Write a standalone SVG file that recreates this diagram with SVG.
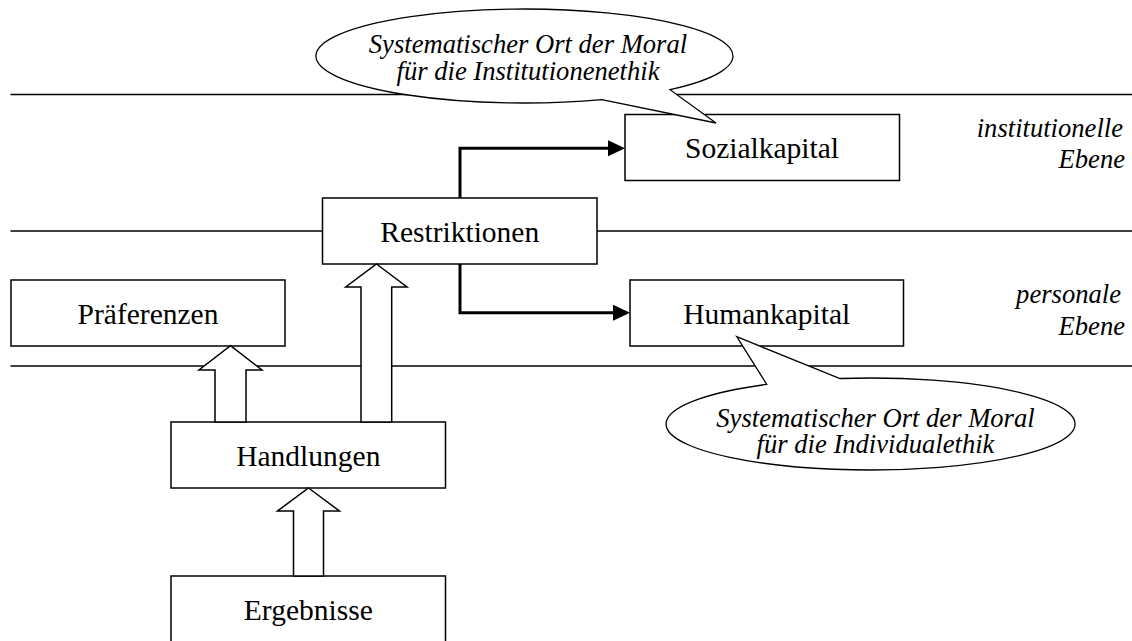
<svg xmlns="http://www.w3.org/2000/svg" width="1132" height="641" viewBox="0 0 1132 641" font-family="'Liberation Serif', 'DejaVu Serif', serif">
<defs>
<style>
.lvl{stroke:#000;stroke-width:1.6;fill:none}
.box{fill:#fff;stroke:#000;stroke-width:1.5}
.bt{font-size:29.5px;text-anchor:middle;fill:#000}
.it{font-size:26.6px;font-style:italic;fill:#000}
.blk{fill:#fff;stroke:#000;stroke-width:1.5;stroke-linejoin:miter}
.con{fill:none;stroke:#000;stroke-width:3}
.call{fill:#fff;stroke:#000;stroke-width:1.3}
</style>
<marker id="ah" markerUnits="userSpaceOnUse" markerWidth="18" markerHeight="17" refX="1" refY="8" orient="auto" overflow="visible">
<path d="M0,0 L17,8 L0,16 Z" fill="#000"/>
</marker>
</defs>
<rect width="1132" height="641" fill="#fff"/>
<g id="levels">
<line class="lvl" x1="10.5" y1="94.5" x2="1132" y2="94.5"/>
<line class="lvl" x1="10.5" y1="231" x2="1132" y2="231"/>
<line class="lvl" x1="10.5" y1="366" x2="1132" y2="366"/>
</g>
<g id="level-labels" font-family="Liberation Serif, serif">
<text class="it" text-anchor="end" x="1123" y="137">institutionelle</text>
<text class="it" text-anchor="end" x="1125" y="168">Ebene</text>
<text class="it" text-anchor="end" x="1121" y="303">personale</text>
<text class="it" text-anchor="end" x="1125" y="335">Ebene</text>
</g>
<g id="praeferenzen" font-family="Liberation Serif, serif"><rect class="box" x="11" y="280" width="274" height="66"/><text class="bt" x="148" y="324">Präferenzen</text></g>
<g id="restriktionen" font-family="Liberation Serif, serif"><rect class="box" x="322.5" y="198" width="274.5" height="66"/><text class="bt" x="459.7" y="242">Restriktionen</text></g>
<g id="handlungen" font-family="Liberation Serif, serif"><rect class="box" x="171" y="422" width="274.5" height="66"/><text class="bt" x="308.3" y="466">Handlungen</text></g>
<g id="ergebnisse" font-family="Liberation Serif, serif"><rect class="box" x="171" y="576" width="274.5" height="70"/><text class="bt" x="308.3" y="620">Ergebnisse</text></g>
<g id="sozialkapital" font-family="Liberation Serif, serif"><rect class="box" x="625" y="114.5" width="274.5" height="66"/><text class="bt" x="762" y="158">Sozialkapital</text></g>
<g id="humankapital" font-family="Liberation Serif, serif"><rect class="box" x="630" y="280" width="273.5" height="66"/><text class="bt" x="766.7" y="324">Humankapital</text></g>
<g id="connectors">
<path class="blk" d="M230.5,345.7 L262,370 L246,370 L246,422 L215,422 L215,370 L199,370 Z"/>
<path class="blk" d="M376.5,264 L407,287 L391.7,287 L391.7,422 L361,422 L361,287 L345.7,287 Z"/>
<path class="blk" d="M308.5,488 L339.5,511 L323.5,511 L323.5,576 L293.5,576 L293.5,511 L277.5,511 Z"/>
<polyline class="con" points="460,198 460,148.3 609,148.3" marker-end="url(#ah)"/>
<polyline class="con" points="460,264 460,312.7 614,312.7" marker-end="url(#ah)"/>
</g>
<g id="callout-institution" font-family="Liberation Serif, serif">
<path class="call" d="M601.7,99.66 L716,123 L670,89.66 A208.5 47 0 1 0 601.7 99.66 Z"/>
<text class="it" text-anchor="middle" x="528" y="53">Systematischer Ort der Moral</text>
<text class="it" text-anchor="middle" x="528" y="80">für die Institutionenethik</text>
</g>
<g id="callout-individual" font-family="Liberation Serif, serif">
<path class="call" d="M766.7,384.37 L736.7,336.7 L840,378.51 A204.5 46 0 1 1 766.7 384.37 Z"/>
<text class="it" text-anchor="middle" x="875.5" y="427">Systematischer Ort der Moral</text>
<text class="it" text-anchor="middle" x="875.5" y="453">für die Individualethik</text>
</g>
</svg>
